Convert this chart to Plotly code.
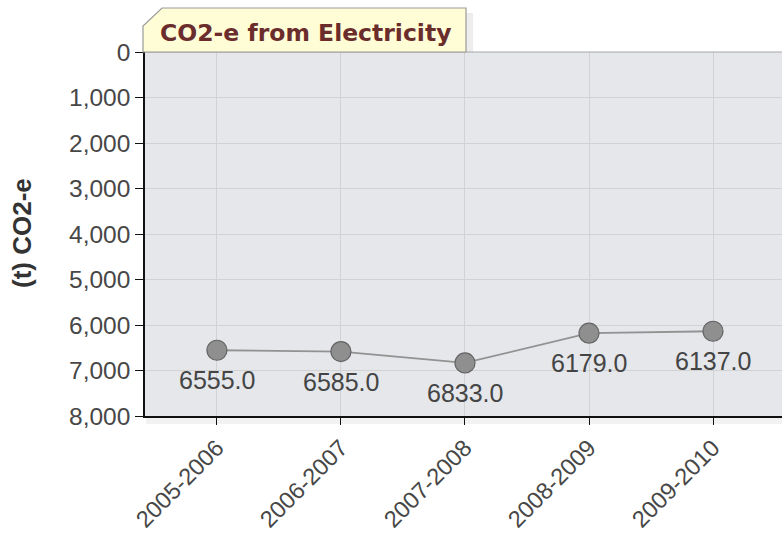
import plotly.graph_objects as go

categories = ["2005-2006", "2006-2007", "2007-2008", "2008-2009", "2009-2010"]
co2_values = [6555.0, 6585.0, 6833.0, 6179.0, 6137.0]
y_ticks = [0, 1000, 2000, 3000, 4000, 5000, 6000, 7000, 8000]
chart_title = "CO2-e from Electricity"
y_title = "(t) CO2-e"

W, H = 782, 534
ML, MR, MT, MB = 145, 0, 52, 118
PW, PH = W - ML - MR, H - MT - MB


def px(x):
    return (x - ML) / PW


def py(y):
    return (H - MB - y) / PH


fig = go.Figure()
fig.add_trace(go.Scatter(
    x=categories, y=co2_values, mode="lines+markers",
    line=dict(color="#929292", width=1.8),
    marker=dict(size=20, color="#8f8f8f",
                line=dict(color="#646464", width=1.2)),
    hoverinfo="x+y", showlegend=False,
))

annotations = []
for c, v in zip(categories, co2_values):
    annotations.append(dict(
        x=c, y=v, xref="x", yref="y", text=f"{v:.1f}", showarrow=False,
        yshift=-30, font=dict(family="Liberation Sans", size=25, color="#444444"),
    ))

# title tab
tab_path = (f"M {px(143)},{py(52)} L {px(143)},{py(26)} L {px(162)},{py(8)} "
            f"L {px(466)},{py(8)} L {px(466)},{py(52)} Z")
shapes = [
    dict(type="rect", xref="paper", yref="paper", x0=px(466), x1=px(473),
         y0=py(52), y1=py(13), fillcolor="rgba(0,0,0,0.07)", line=dict(width=0),
         layer="below"),
    dict(type="rect", xref="paper", yref="paper", x0=px(146), x1=1,
         y0=py(417), y1=py(424), fillcolor="rgba(0,0,0,0.05)", line=dict(width=0),
         layer="below"),
    dict(type="line", xref="paper", yref="paper", x0=0, x1=1, y0=1, y1=1,
         line=dict(color="#a8a8a8", width=1.2), layer="above"),
    dict(type="path", xref="paper", yref="paper", path=tab_path,
         fillcolor="#fffdd6", line=dict(color="#9a9a9a", width=1.2),
         layer="above"),
]
annotations.append(dict(
    x=px(305), y=py(33), xref="paper", yref="paper", text=f"<b>{chart_title}</b>",
    showarrow=False, xanchor="center", yanchor="middle",
    font=dict(family="DejaVu Sans", size=23.5, color="#6b2c2c"),
))
annotations.append(dict(
    x=px(22), y=py(233), xref="paper", yref="paper", text=f"<b>{y_title}</b>",
    showarrow=False, xanchor="center", yanchor="middle", textangle=-90,
    font=dict(family="Liberation Sans", size=26, color="#333333"),
))

tick_font = dict(family="Liberation Sans", size=24.5, color="#474747")

fig.update_layout(
    width=W, height=H,
    margin=dict(l=ML, r=MR, t=MT, b=MB, pad=0),
    paper_bgcolor="white", plot_bgcolor="#e5e7ea",
    shapes=shapes, annotations=annotations,
    font=tick_font,
    xaxis=dict(
        type="category", range=[-0.58, 4.556], showgrid=True, gridcolor="#d2d2d2",
        gridwidth=1, showline=True, linecolor="#111111", linewidth=1.5,
        ticks="outside", ticklen=7, tickcolor="#111111", tickangle=-45,
        tickfont=dict(family="Liberation Sans", size=23.5, color="#474747"),
        zeroline=False, fixedrange=True,
    ),
    yaxis=dict(
        range=[8000, 0], tickvals=y_ticks, tickformat=",", showgrid=True,
        gridcolor="#d2d2d2", gridwidth=1, showline=True, linecolor="#111111",
        linewidth=1.5, ticks="outside", ticklen=8, tickcolor="#111111",
        tickfont=tick_font, zeroline=False, fixedrange=True,
    ),
)

fig.write_html("out.html", config={"displayModeBar": False},
               post_script="document.body.style.margin='0';")
